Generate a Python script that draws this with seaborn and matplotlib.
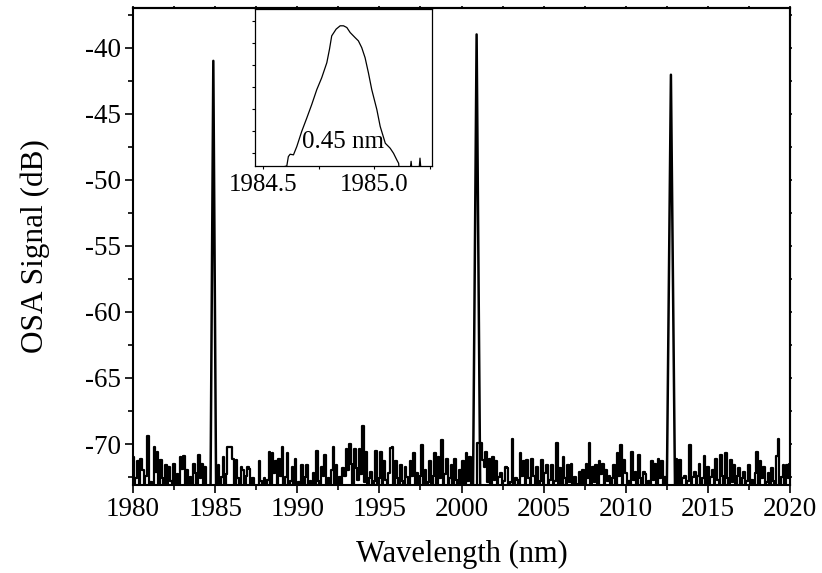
import numpy as np
import pandas as pd
import matplotlib
matplotlib.use("Agg")
import matplotlib.pyplot as plt
from matplotlib.ticker import MultipleLocator, NullFormatter, FixedLocator
import seaborn as sns

# ---------------- data ----------------
# noise floor sampled every 0.1 nm, one list per 5 nm segment (dB)
noise_start = 1980.0
noise_step = 0.1
noise_1980 = [-71.0, -73.4, -72.6, -71.3, -73.5, -71.1, -72.0, -73.5, -72.4, -69.4,
              -73.5, -72.9, -73.4, -70.2, -72.1, -70.6, -73.5, -71.2, -72.6, -73.4,
              -71.6, -73.5, -71.7, -72.8, -73.5, -71.5, -73.0, -72.3, -73.5, -71.0,
              -71.9, -70.9, -73.5, -72.0, -73.3, -72.5, -73.5, -71.5, -72.2, -73.4,
              -70.8, -72.6, -71.5, -73.5, -71.7, -73.5, -73.5, -73.5, -73.5, -73.5]
noise_1985 = [-73.5, -73.5, -71.6, -73.4, -72.5, -71.0, -73.5, -72.3, -70.2, -70.2,
              -70.2, -71.1, -73.5, -71.2, -72.6, -73.4, -71.7, -72.0, -73.5, -72.4,
              -71.7, -71.9, -73.5, -72.6, -73.5, -73.2, -73.5, -71.3, -72.8, -73.5,
              -72.6, -73.5, -72.7, -70.6, -73.3, -70.7, -72.2, -71.3, -73.5, -71.1,
              -72.4, -70.2, -73.5, -72.5, -70.7, -73.4, -72.8, -71.7, -73.5, -71.1]
noise_1990 = [-73.5, -72.9, -73.5, -71.6, -73.2, -72.5, -71.6, -73.5, -72.8, -73.5,
              -72.2, -73.5, -70.5, -72.8, -73.5, -71.7, -72.4, -70.8, -73.5, -72.6,
              -73.4, -72.0, -70.2, -73.5, -71.6, -73.2, -72.5, -73.5, -71.8, -72.4,
              -70.4, -72.0, -70.0, -71.5, -73.0, -70.4, -71.8, -72.7, -70.4, -72.3,
              -68.6, -72.9, -70.6, -73.5, -72.6, -72.1, -73.5, -72.8, -70.5, -73.3]
noise_1995 = [-72.6, -70.6, -73.5, -71.3, -72.7, -73.5, -72.2, -70.3, -70.2, -73.4,
              -71.3, -72.6, -73.5, -71.6, -72.8, -73.5, -71.7, -72.5, -73.5, -71.3,
              -72.4, -70.7, -73.3, -72.2, -73.5, -72.4, -70.1, -73.5, -72.0, -73.5,
              -72.9, -71.3, -73.5, -72.4, -70.7, -73.2, -71.0, -72.6, -69.7, -73.5,
              -72.3, -71.1, -73.5, -72.6, -71.6, -73.4, -71.1, -72.7, -73.5, -72.0]
noise_2000 = [-73.5, -71.3, -73.5, -70.7, -72.8, -71.0, -73.5, -73.5, -73.5, -73.5,
              -73.5, -73.5, -69.9, -71.2, -71.7, -70.6, -72.9, -71.1, -73.3, -71.0,
              -72.7, -71.3, -73.5, -72.5, -72.2, -73.5, -72.8, -71.7, -71.8, -73.5,
              -72.9, -69.6, -73.5, -72.6, -72.7, -73.5, -70.7, -72.4, -71.3, -73.5,
              -71.2, -72.6, -73.5, -71.1, -72.4, -73.5, -71.7, -73.3, -72.8, -71.2]
noise_2005 = [-73.5, -72.2, -71.6, -73.5, -72.7, -71.6, -73.4, -72.8, -69.9, -73.5,
              -71.8, -73.2, -71.0, -72.6, -73.5, -71.6, -72.9, -71.5, -73.5, -72.5,
              -73.0, -73.5, -72.1, -73.3, -72.0, -73.5, -71.5, -72.6, -69.9, -73.5,
              -71.7, -72.9, -71.6, -73.5, -71.3, -72.3, -71.5, -73.5, -72.0, -72.8,
              -72.4, -73.5, -72.6, -71.6, -73.5, -70.7, -72.4, -70.1, -73.4, -71.2]
noise_2010 = [-72.2, -73.5, -72.8, -73.5, -70.6, -72.7, -72.1, -73.5, -70.8, -72.6,
              -73.5, -72.1, -72.3, -73.5, -72.8, -73.5, -71.3, -72.7, -71.5, -73.5,
              -71.1, -72.6, -71.3, -73.5, -72.5, -73.5, -73.5, -73.5, -73.5, -73.5,
              -73.5, -71.1, -73.5, -71.2, -73.3, -72.6, -72.4, -73.5, -72.8, -70.1,
              -73.5, -72.5, -72.1, -73.5, -72.4, -71.5, -73.5, -72.6, -70.9, -73.4]
noise_2015 = [-71.7, -73.5, -72.5, -72.0, -73.5, -71.1, -72.7, -73.5, -70.8, -72.4,
              -73.5, -70.7, -72.6, -73.5, -71.2, -72.9, -71.6, -73.5, -72.4, -71.8,
              -73.5, -72.6, -72.1, -73.5, -72.8, -71.6, -73.5, -72.7, -73.5, -72.2,
              -70.6, -73.4, -71.3, -72.6, -71.7, -73.5, -72.9, -72.2, -73.5, -71.8,
              -72.8, -73.5, -70.9, -69.6, -73.5, -72.5, -71.6, -73.5, -71.6, -72.6,
              -71.5]

# laser lines (base-left, top, base-right)
peak1_wl = [1984.72, 1984.89, 1985.06]
peak1_db = [-73.5, -41.0, -73.5]
peak2_wl = [2000.70, 2000.92, 2001.14]
peak2_db = [-73.5, -39.0, -73.5]
peak3_wl = [2012.50, 2012.75, 2013.00]
peak3_db = [-73.5, -42.05, -73.5]

# inset: zoom of the 1985 nm line (normalised scale)
inset_wl = [1984.46, 1984.607, 1984.614, 1984.622, 1984.637, 1984.652, 1984.674,
            1984.697, 1984.719, 1984.742, 1984.764, 1984.787, 1984.799, 1984.809,
            1984.829, 1984.847, 1984.862, 1984.877, 1984.892, 1984.914, 1984.929,
            1984.944, 1984.959, 1984.974, 1984.989, 1985.012, 1985.027, 1985.050,
            1985.072, 1985.087, 1985.102, 1985.110, 1985.114, 1985.160, 1985.166,
            1985.172, 1985.200, 1985.206, 1985.212, 1985.30]
inset_sig = [-0.05, 0.0, 0.060, 0.075, 0.071, 0.124, 0.220, 0.306, 0.391, 0.487,
             0.562, 0.658, 0.744, 0.829, 0.872, 0.893, 0.893, 0.882, 0.850, 0.818,
             0.797, 0.754, 0.690, 0.594, 0.487, 0.359, 0.252, 0.145, 0.113, 0.081,
             0.038, 0.017, -0.05, -0.05, 0.03, -0.05, -0.05, 0.05, -0.05, -0.05]

x_ticks = [1980, 1985, 1990, 1995, 2000, 2005, 2010, 2015, 2020]
y_ticks = [-70, -65, -60, -55, -50, -45, -40]
inset_xticks = [1984.5, 1985.0]
inset_xticklabels = ["1984.5", "1985.0"]

# ---------------- build spectrum ----------------
noise_vals = noise_1980 + noise_1985 + noise_1990 + noise_1995 + \
             noise_2000 + noise_2005 + noise_2010 + noise_2015
noise_wl = np.round(noise_start + noise_step * np.arange(len(noise_vals)), 2)
noise = pd.DataFrame({"wl": noise_wl, "db": noise_vals})
for pw in (peak1_wl, peak2_wl, peak3_wl):
    noise = noise[~((noise.wl > pw[0]) & (noise.wl < pw[-1]))]
noise = noise.reset_index(drop=True)
peak_frames = [pd.DataFrame({"wl": w, "db": d})
               for w, d in ((peak1_wl, peak1_db), (peak2_wl, peak2_db), (peak3_wl, peak3_db))]
inset_df = pd.DataFrame({"wl": inset_wl, "sig": inset_sig})

# ---------------- plot ----------------
sns.set_style("ticks")
plt.rcParams["font.family"] = ["Liberation Serif", "DejaVu Serif"]
plt.rcParams["axes.unicode_minus"] = False
plt.rcParams["text.color"] = "black"
plt.rcParams["axes.labelcolor"] = "black"
plt.rcParams["xtick.color"] = "black"
plt.rcParams["ytick.color"] = "black"

fig = plt.figure(figsize=(8.22, 5.73), dpi=100)
ax = fig.add_axes([133 / 822, 1 - 485 / 573, (790 - 133) / 822, (485 - 8) / 573])

sns.lineplot(data=noise, x="wl", y="db", ax=ax, color="black", linewidth=1.6,
             estimator=None, sort=False, drawstyle="steps-mid")
for pf in peak_frames:
    sns.lineplot(data=pf, x="wl", y="db", ax=ax, color="black", linewidth=1.8,
                 estimator=None, sort=False)
ax.set_xlim(1980, 2020)
ax.set_ylim(-73.1, -37.0)
ax.set_xticks(x_ticks)
ax.set_yticks(y_ticks)
ax.xaxis.set_minor_locator(MultipleLocator(2.5))
ax.yaxis.set_minor_locator(MultipleLocator(2.5))
ax.tick_params(which="major", direction="out", length=5.8, width=1.2,
               labelsize=19.5, pad=3, colors="black")
ax.tick_params(which="minor", direction="out", length=3.5, width=1.2, colors="black")
ax.set_xlabel("Wavelength (nm)", fontsize=22, labelpad=13, color="black")
ax.set_ylabel("OSA Signal (dB)", fontsize=22.5, labelpad=25, color="black")
for s in ax.spines.values():
    s.set_linewidth(1.5)
    s.set_color("black")

# tiny ticks on top / right
sec_x = ax.secondary_xaxis("top")
sec_x.set_xticks(x_ticks)
sec_x.xaxis.set_minor_locator(MultipleLocator(2.5))
sec_x.xaxis.set_major_formatter(NullFormatter())
sec_x.tick_params(which="both", direction="out", length=1.2, width=1.2, colors="black")
sec_x.spines["top"].set_linewidth(1.5)
sec_y = ax.secondary_yaxis("right")
sec_y.set_yticks(y_ticks)
sec_y.yaxis.set_minor_locator(MultipleLocator(2.5))
sec_y.yaxis.set_major_formatter(NullFormatter())
sec_y.tick_params(which="both", direction="out", length=1.2, width=1.2, colors="black")
sec_y.spines["right"].set_linewidth(1.5)

# inset
axi = fig.add_axes([255 / 822, 1 - 166 / 573, (432 - 255) / 822, (166 - 9) / 573])
axi.set_facecolor("white")
sns.lineplot(data=inset_df, x="wl", y="sig", ax=axi, color="black", linewidth=0.9,
             estimator=None, sort=False)
axi.set_xlim(1984.464, 1985.26)
axi.set_ylim(0, 1)
axi.set_xticks(inset_xticks)
axi.set_xticklabels(inset_xticklabels)
axi.xaxis.set_minor_locator(FixedLocator([1984.75, 1985.25]))
axi.yaxis.set_major_locator(FixedLocator([0.081, 0.2215, 0.362, 0.5025, 0.643, 0.7835, 0.924]))
axi.yaxis.set_major_formatter(NullFormatter())
axi.tick_params(which="both", direction="out", length=2, width=0.8,
                labelsize=18, pad=4, colors="black")
axi.set_xlabel("")
axi.set_ylabel("")
for s in axi.spines.values():
    s.set_linewidth(0.9)
    s.set_color("black")
axi.text(1984.86, 0.15, "0.45 nm", fontsize=18, ha="center", va="center", color="black")

fig.savefig("out.png", dpi=100)
